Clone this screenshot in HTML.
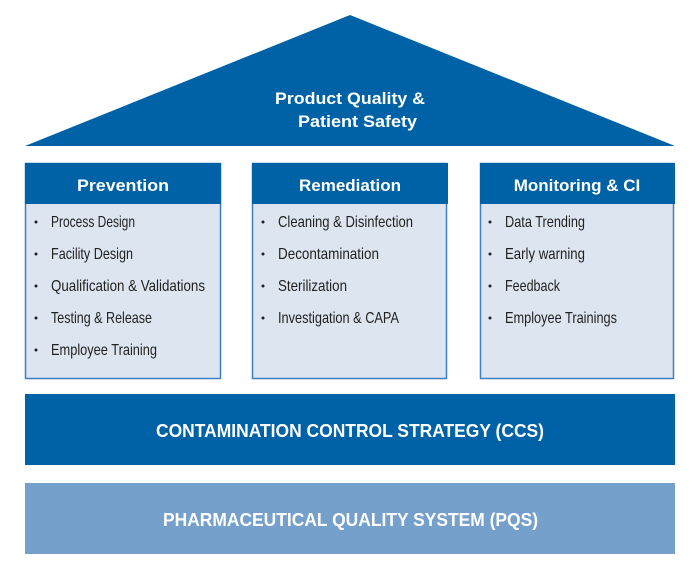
<!DOCTYPE html>
<html><head><meta charset="utf-8"><style>
html,body{margin:0;padding:0;background:#fff;width:700px;height:570px;overflow:hidden}
svg text{font-family:"Liberation Sans",sans-serif}
</style></head><body>
<svg width="700" height="570" viewBox="0 0 700 570" xmlns="http://www.w3.org/2000/svg">
<polygon points="350,15 675,146 25,146" fill="#0062a6"/>
<text x="275" y="104" font-size="17" font-weight="bold" fill="#fff" textLength="150" lengthAdjust="spacingAndGlyphs">Product Quality &amp;</text>
<text x="298" y="127" font-size="17" font-weight="bold" fill="#fff" textLength="119" lengthAdjust="spacingAndGlyphs">Patient Safety</text>

<g>
<rect x="25.5" y="163.5" width="195" height="215" fill="#dde5f0" stroke="#3d7fc0" stroke-width="1.5"/>
<rect x="25" y="163" width="196" height="41" fill="#0062a6"/>
<text x="77" y="191" font-size="17" font-weight="bold" fill="#fff" textLength="92" lengthAdjust="spacingAndGlyphs">Prevention</text>
<rect x="252.5" y="163.5" width="194" height="215" fill="#dde5f0" stroke="#3d7fc0" stroke-width="1.5"/>
<rect x="252" y="163" width="196" height="41" fill="#0062a6"/>
<text x="350" y="191" font-size="17" font-weight="bold" fill="#fff" text-anchor="middle">Remediation</text>
<rect x="480.5" y="163.5" width="193" height="215" fill="#dde5f0" stroke="#3d7fc0" stroke-width="1.5"/>
<rect x="480" y="163" width="195" height="41" fill="#0062a6"/>
<text x="577" y="191" font-size="17" font-weight="bold" fill="#fff" text-anchor="middle">Monitoring &amp; CI</text>
</g>

<g font-size="16" fill="#222">
<g fill="#222">
<circle cx="36" cy="222" r="1.5"/><circle cx="36" cy="254" r="1.5"/><circle cx="36" cy="286" r="1.5"/><circle cx="36" cy="318" r="1.5"/><circle cx="36" cy="350" r="1.5"/>
<circle cx="263" cy="222" r="1.5"/><circle cx="263" cy="254" r="1.5"/><circle cx="263" cy="286" r="1.5"/><circle cx="263" cy="318" r="1.5"/>
<circle cx="490" cy="222" r="1.5"/><circle cx="490" cy="254" r="1.5"/><circle cx="490" cy="286" r="1.5"/><circle cx="490" cy="318" r="1.5"/>
</g>
<text x="51" y="227" textLength="84" lengthAdjust="spacingAndGlyphs">Process Design</text>
<text x="51" y="259" textLength="82" lengthAdjust="spacingAndGlyphs">Facility Design</text>
<text x="51" y="291" textLength="154" lengthAdjust="spacingAndGlyphs">Qualification &amp; Validations</text>
<text x="51" y="323" textLength="101" lengthAdjust="spacingAndGlyphs">Testing &amp; Release</text>
<text x="51" y="355" textLength="106" lengthAdjust="spacingAndGlyphs">Employee Training</text>
<text x="278" y="227" textLength="135" lengthAdjust="spacingAndGlyphs">Cleaning &amp; Disinfection</text>
<text x="278" y="259" textLength="101" lengthAdjust="spacingAndGlyphs">Decontamination</text>
<text x="278" y="291" textLength="69" lengthAdjust="spacingAndGlyphs">Sterilization</text>
<text x="278" y="323" textLength="121" lengthAdjust="spacingAndGlyphs">Investigation &amp; CAPA</text>
<text x="505" y="227" textLength="80" lengthAdjust="spacingAndGlyphs">Data Trending</text>
<text x="505" y="259" textLength="80" lengthAdjust="spacingAndGlyphs">Early warning</text>
<text x="505" y="291" textLength="55" lengthAdjust="spacingAndGlyphs">Feedback</text>
<text x="505" y="323" textLength="112" lengthAdjust="spacingAndGlyphs">Employee Trainings</text>
</g>

<rect x="25" y="394" width="650" height="71" fill="#0062a6"/>
<text x="156" y="437" font-size="18" font-weight="bold" fill="#fff" textLength="388" lengthAdjust="spacingAndGlyphs">CONTAMINATION CONTROL STRATEGY (CCS)</text>
<rect x="25" y="483" width="650" height="71" fill="#74a0cb"/>
<text x="163" y="526" font-size="18" font-weight="bold" fill="#fff" textLength="375" lengthAdjust="spacingAndGlyphs">PHARMACEUTICAL QUALITY SYSTEM (PQS)</text>
</svg>
</body></html>
